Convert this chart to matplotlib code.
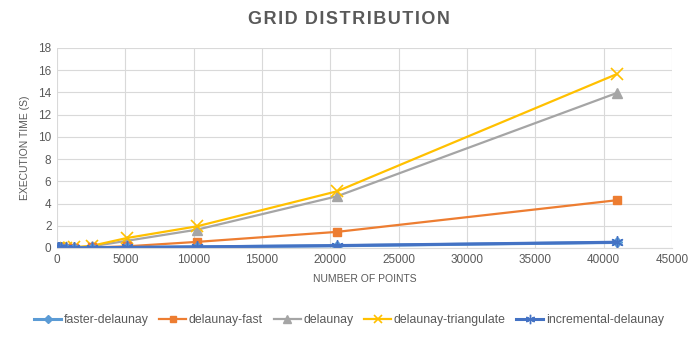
import matplotlib
matplotlib.use("Agg")
import matplotlib.pyplot as plt

points = [40, 80, 160, 320, 640, 1280, 2560, 5120, 10240, 20480, 40960]
faster_delaunay = [0.0, 0.0, 0.0, 0.0, 0.0, 0.01, 0.02, 0.05, 0.1, 0.2, 0.5]
delaunay_fast = [0.0, 0.0, 0.0, 0.0, 0.01, 0.02, 0.05, 0.15, 0.55, 1.45, 4.3]
delaunay = [0.0, 0.0, 0.0, 0.01, 0.02, 0.05, 0.15, 0.65, 1.65, 4.65, 13.95]
delaunay_triangulate = [0.0, 0.0, 0.0, 0.01, 0.03, 0.07, 0.2, 0.9, 1.95, 5.1, 15.65]
incremental_delaunay = [0.0, 0.0, 0.0, 0.0, 0.0, 0.01, 0.02, 0.05, 0.1, 0.22, 0.52]

series = [
    ("faster-delaunay", faster_delaunay, "#5B9BD5", "D", 5),
    ("delaunay-fast", delaunay_fast, "#ED7D31", "s", 6),
    ("delaunay", delaunay, "#A5A5A5", "^", 7),
    ("delaunay-triangulate", delaunay_triangulate, "#FFC000", "x", 8),
    ("incremental-delaunay", incremental_delaunay, "#4472C4", (6, 2, 0), 9),
]

plt.rcParams['font.family'] = ['Liberation Sans', 'DejaVu Sans']
fig = plt.figure(figsize=(6.98, 3.40), dpi=100)
ax = fig.add_axes([57/698, 1-248/340, 615/698, 200/340])

handles = {}
for i in [2, 3, 1, 0, 4]:
    name, vals, c, m, ms = series[i]
    lw = 2.2 if i in (0, 4) else 1.6
    h, = ax.plot(points, vals, color=c, marker=m, markersize=ms, linewidth=lw,
                 markeredgewidth=1.2 if m == "x" else 1.0, label=name)
    handles[i] = h

ax.set_xlim(0, 45000)
ax.set_ylim(0, 18)
ax.set_xticks(range(0, 45001, 5000))
ax.set_yticks(range(0, 19, 2))
ax.grid(True, color="#D9D9D9", linewidth=0.8)
ax.set_axisbelow(True)
for s in ["top", "right", "left"]:
    ax.spines[s].set_visible(False)
ax.spines["bottom"].set_color("#D9D9D9")
ax.tick_params(length=0, labelsize=8.5, colors="#595959", pad=4)

ax.set_xlabel("NUMBER OF POINTS", fontsize=7.5, color="#595959", labelpad=6)
ax.set_ylabel("EXECUTION TIME (S)", fontsize=7.5, color="#595959", labelpad=6)

title = "GRID DISTRIBUTION"
spaced = "\u200a".join(title).replace("\u200a \u200a", "\u2009\u2009")
fig.text(0.5, 1-20/340, spaced,
         ha="center", va="center", fontsize=13, fontweight="bold", color="#595959")

fig.legend([handles[i] for i in range(5)], [series[i][0] for i in range(5)],
           loc="center", bbox_to_anchor=(0.5, 1-320/340), ncol=5, frameon=False,
           fontsize=8.8, labelcolor="#595959", handlelength=2.2, columnspacing=0.9,
           handletextpad=0.2, markerscale=0.75)

fig.savefig("out.png", dpi=100)
